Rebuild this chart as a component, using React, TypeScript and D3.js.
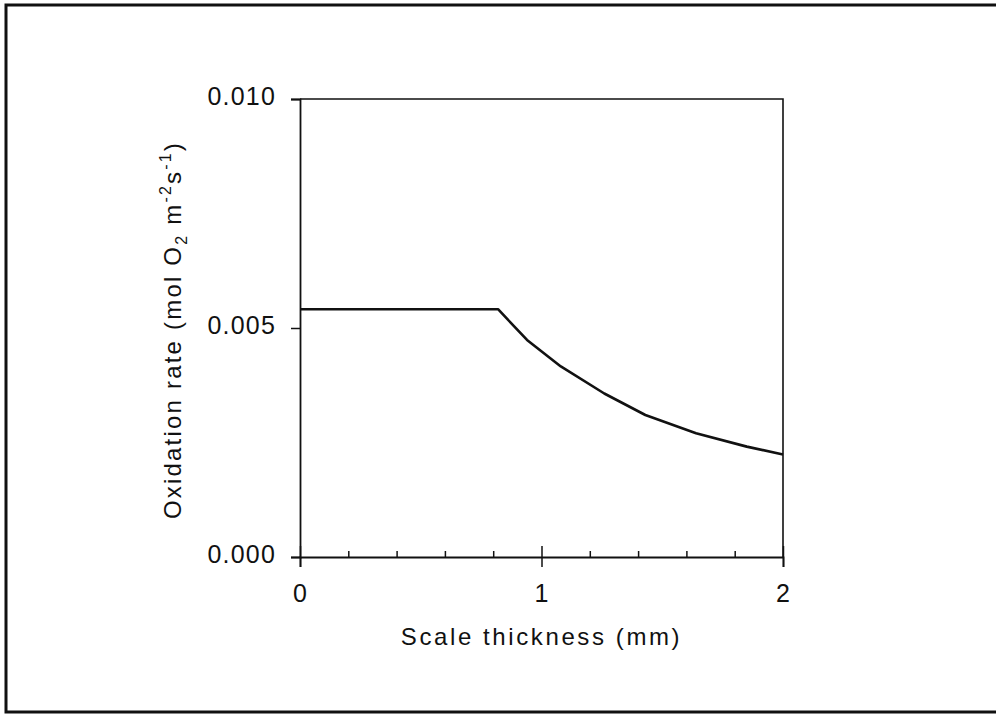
import React, { useEffect, useRef } from "react";
import * as d3 from "d3";

// scale thickness (mm) vs oxidation rate (mol O2 m-2 s-1)
const thickness = [0, 0.82, 0.94, 1.08, 1.26, 1.43, 1.64, 1.85, 2.0];
const rate = [0.00541, 0.00541, 0.00474, 0.00416, 0.00357, 0.0031, 0.0027, 0.00241, 0.00224];

const xMajor = [0, 1, 2];
const yMajor = [0, 0.005, 0.01];
const yTickLabels = ["0.000", "0.005", "0.010"];

const FONT = "'Liberation Sans', Arial, sans-serif";

const App = () => {
  const svgRef = useRef<SVGSVGElement>(null);

  useEffect(() => {
    const margin = { top: 99, left: 300 };
    const width = 483;
    const height = 458;

    const root = d3.select(svgRef.current);
    root.selectAll("*").remove();

    // outer frame of the scanned figure
    root.append("rect")
      .attr("x", 6)
      .attr("y", 5)
      .attr("width", 1000)
      .attr("height", 707)
      .attr("fill", "none")
      .attr("stroke", "#111")
      .attr("stroke-width", 3);

    const svg = root.append("g")
      .attr("transform", `translate(${margin.left},${margin.top})`);

    const x = d3.scaleLinear().domain([0, 2]).range([0, width]);
    const y = d3.scaleLinear().domain([0, 0.01]).range([height, 0]);

    // top and right frame of the plot
    svg.append("path")
      .attr("d", `M0,0H${width}V${height}`)
      .attr("fill", "none")
      .attr("stroke", "#111")
      .attr("stroke-width", 1.6);

    svg.append("g")
      .attr("transform", `translate(0,${height})`)
      .call(d3.axisBottom(x).tickValues(xMajor).tickSize(10).tickPadding(17).tickFormat(d3.format("d")));

    // inner half of the major ticks plus the minor ticks
    svg.append("g")
      .attr("transform", `translate(0,${height})`)
      .call(d3.axisTop(x).tickValues(xMajor).tickSize(11).tickFormat(() => ""))
      .call((g) => g.select(".domain").remove());
    svg.append("g")
      .attr("transform", `translate(0,${height})`)
      .call(d3.axisTop(x).tickValues(x.ticks(10).filter((d) => !xMajor.includes(d))).tickSize(6).tickFormat(() => ""))
      .call((g) => g.select(".domain").remove());

    const yAxis = svg.append("g")
      .call(d3.axisLeft(y).tickValues(yMajor).tickSize(9).tickPadding(15)
        .tickFormat((d, i) => yTickLabels[i]));

    svg.selectAll(".domain").attr("stroke", "#111").attr("stroke-width", 1.8);
    svg.selectAll(".tick line").attr("stroke", "#111").attr("stroke-width", 1.5);
    svg.selectAll(".tick text")
      .attr("font-family", FONT)
      .attr("font-size", 25)
      .attr("letter-spacing", 1.2)
      .attr("fill", "#111");
    yAxis.selectAll(".tick text").attr("dy", "0.22em");

    const line = d3.line<number>()
      .x((d, i) => x(thickness[i]))
      .y((d) => y(d));

    svg.append("path")
      .datum(rate)
      .attr("d", line)
      .attr("fill", "none")
      .attr("stroke", "#111")
      .attr("stroke-width", 2.6)
      .attr("stroke-linejoin", "round");

    svg.append("text")
      .attr("text-anchor", "middle")
      .attr("x", width / 2)
      .attr("y", height + 88)
      .attr("font-family", FONT)
      .attr("font-size", 24)
      .attr("letter-spacing", 2.6)
      .attr("fill", "#111")
      .text("Scale thickness (mm)");

    const yl = svg.append("text")
      .attr("text-anchor", "middle")
      .attr("transform", `translate(-119,${height / 2 + 2}) rotate(-90)`)
      .attr("font-family", FONT)
      .attr("font-size", 24)
      .attr("letter-spacing", 2.2)
      .attr("fill", "#111");
    yl.append("tspan").text("Oxidation rate (mol O");
    yl.append("tspan").attr("font-size", 16).attr("dy", 6).text("2");
    yl.append("tspan").attr("dy", -6).text(" m");
    yl.append("tspan").attr("font-size", 16).attr("dy", -10).text("-2");
    yl.append("tspan").attr("dy", 10).text("s");
    yl.append("tspan").attr("font-size", 16).attr("dy", -10).text("-1");
    yl.append("tspan").attr("dy", 10).text(")");
  }, []);

  return (
    <svg
      ref={svgRef}
      width={996}
      height={718}
      style={{ position: "absolute", left: 0, top: 0, background: "#fff" }}
    />
  );
};

export default App;
